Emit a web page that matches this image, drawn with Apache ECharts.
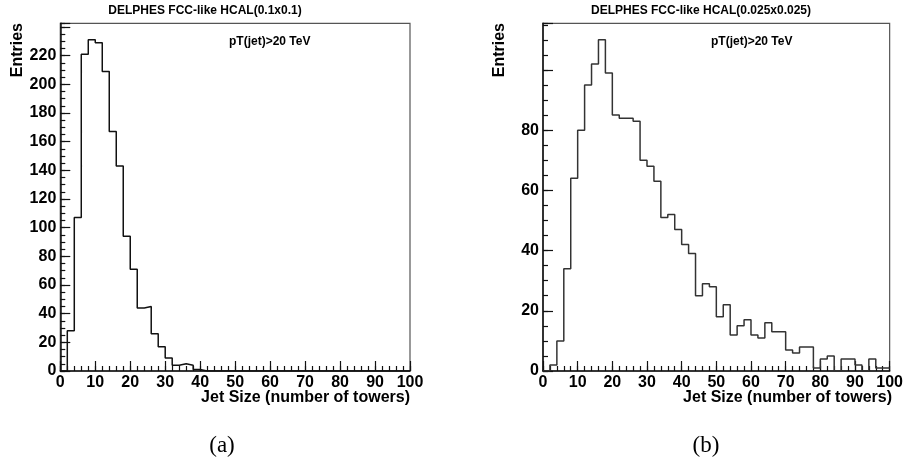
<!DOCTYPE html>
<html><head><meta charset="utf-8">
<script src="https://cdn.jsdelivr.net/npm/echarts@6/dist/echarts.min.js"></script>
<style>html,body{margin:0;padding:0;background:#fff}#c{width:906px;height:459px}</style>
</head><body><div id="c"></div>
<script>
// ---- data ----
const binWidth = 2;
const xTickLabels = [0, 10, 20, 30, 40, 50, 60, 70, 80, 90, 100];
const yTickLabelsA = [0, 20, 40, 60, 80, 100, 120, 140, 160, 180, 200, 220];
const yTickLabelsB = [0, 20, 40, 60, 80];
const countsA = [0, 28, 107, 221, 231, 229, 209, 167, 143, 94,
                 71, 44, 45, 26, 17, 9, 4, 5, 4, 1,
                 0, 0, 0, 0, 0, 0, 0, 0, 0, 0,
                 0, 0, 0, 0, 0, 0, 0, 0, 0, 0,
                 0, 0, 0, 0, 0, 0, 0, 0, 0, 0];
const countsB = [0, 2, 10, 34, 64, 80, 95, 102, 110, 99,
                 85, 84, 84, 83, 70, 68, 63, 51, 52, 47,
                 42, 39, 25, 29, 28, 18, 22, 12, 15, 17,
                 12, 11, 16, 13, 13, 7, 6, 8, 8, 1,
                 4, 5, 0, 4, 4, 2, 0, 4, 1, 1];
const titleA = 'DELPHES FCC-like HCAL(0.1x0.1)';
const titleB = 'DELPHES FCC-like HCAL(0.025x0.025)';
const cutText = 'pT(jet)>20 TeV';
const xName = 'Jet Size (number of towers)';
const yName = 'Entries';

// ---- helpers ----
function stepData(counts) {
  const d = counts.map((v, i) => [i * binWidth, v]);
  d.push([counts.length * binWidth, counts[counts.length - 1]]);
  return d;
}
const yMaxA = Math.max(...countsA) * 1.05;
const yMaxB = Math.max(...countsB) * 1.05;
const FONT = '"Liberation Sans", Arial, sans-serif';
const axisCol = '#111';

function mainX(gi) {
  return {
    gridIndex: gi, type: 'value', min: 0, max: 100, interval: 10, position: 'bottom',
    axisLine: { show: true, onZero: false, lineStyle: { color: axisCol, width: 1.5 } },
    axisTick: { show: true, inside: true, length: 10, lineStyle: { color: axisCol, width: 1.2 } },
    axisLabel: { show: true, margin: 4, color: '#000', fontFamily: FONT, fontWeight: 'bold', fontSize: 16,
      formatter: v => xTickLabels.includes(v) ? String(v) : '' },
    splitLine: { show: false }
  };
}
function minorX(gi) {
  return {
    gridIndex: gi, type: 'value', min: 0, max: 100, interval: binWidth, position: 'bottom',
    axisLine: { show: false }, axisLabel: { show: false }, splitLine: { show: false },
    axisTick: { show: true, inside: true, length: 5, lineStyle: { color: axisCol, width: 1.2 } }
  };
}
function mainY(gi, max, labels) {
  return {
    gridIndex: gi, type: 'value', min: 0, max: max, interval: 20, position: 'left',
    axisLine: { show: true, onZero: false, lineStyle: { color: axisCol, width: 1.5 } },
    axisTick: { show: true, inside: true, length: 10, lineStyle: { color: axisCol, width: 1.2 } },
    axisLabel: { show: true, margin: 4, color: '#000', fontFamily: FONT, fontWeight: 'bold', fontSize: 16,
      formatter: v => labels.includes(v) ? String(v) : '' },
    splitLine: { show: false }
  };
}
function minorY(gi, max) {
  return {
    gridIndex: gi, type: 'value', min: 0, max: max, interval: 5, position: 'left',
    axisLine: { show: false }, axisLabel: { show: false }, splitLine: { show: false },
    axisTick: { show: true, inside: true, length: 5, lineStyle: { color: axisCol, width: 1.2 } }
  };
}
function txt(text, x, y, size, align, extra) {
  return Object.assign({
    type: 'text', x: x, y: y, silent: true,
    style: { text: text, fill: '#000', font: 'bold ' + size + 'px ' + FONT,
      textAlign: align, textVerticalAlign: 'middle', verticalAlign: 'middle' }
  }, extra || {});
}
function serif(text, x, y) {
  return {
    type: 'text', x: x, y: y, silent: true,
    style: { text: text, fill: '#000', font: '23px "Liberation Serif", "DejaVu Serif", serif',
      textAlign: 'center', textVerticalAlign: 'middle', verticalAlign: 'middle' }
  };
}

const chart = echarts.init(document.getElementById('c'), null, { renderer: 'canvas' });
chart.setOption({
  animation: false,
  backgroundColor: '#fff',
  grid: [
    { left: 60.3, top: 23.3, width: 349.7, height: 347.7, show: true, borderColor: '#555', borderWidth: 1.2, backgroundColor: 'transparent', containLabel: false },
    { left: 543, top: 23.3, width: 349.3, height: 347.7, show: true, borderColor: '#555', borderWidth: 1.2, backgroundColor: 'transparent', containLabel: false }
  ],
  xAxis: [mainX(0), minorX(0), mainX(1), minorX(1)],
  yAxis: [mainY(0, yMaxA, yTickLabelsA), minorY(0, yMaxA), mainY(1, yMaxB, yTickLabelsB), minorY(1, yMaxB)],
  series: [
    { type: 'line', step: 'end', xAxisIndex: 0, yAxisIndex: 0, data: stepData(countsA), symbol: 'none',
      lineStyle: { color: '#111', width: 1.5 }, clip: true },
    { type: 'line', step: 'end', xAxisIndex: 2, yAxisIndex: 2, data: stepData(countsB), symbol: 'none',
      lineStyle: { color: '#333', width: 1.5 }, clip: true }
  ],
  graphic: [
    txt(titleA, 205, 11, 12, 'center'),
    txt(titleB, 701, 11, 12, 'center'),
    txt(cutText, 229, 41.7, 12, 'left'),
    txt(cutText, 711, 41.2, 12, 'left'),
    txt(yName, 17.5, 23, 16, 'right', { rotation: Math.PI / 2 }),
    txt(yName, 500, 23, 16, 'right', { rotation: Math.PI / 2 }),
    txt(xName, 410, 398, 16, 'right'),
    txt(xName, 892, 398, 16, 'right'),
    serif('(a)', 222, 446),
    serif('(b)', 706, 446)
  ]
});
</script></body></html>
